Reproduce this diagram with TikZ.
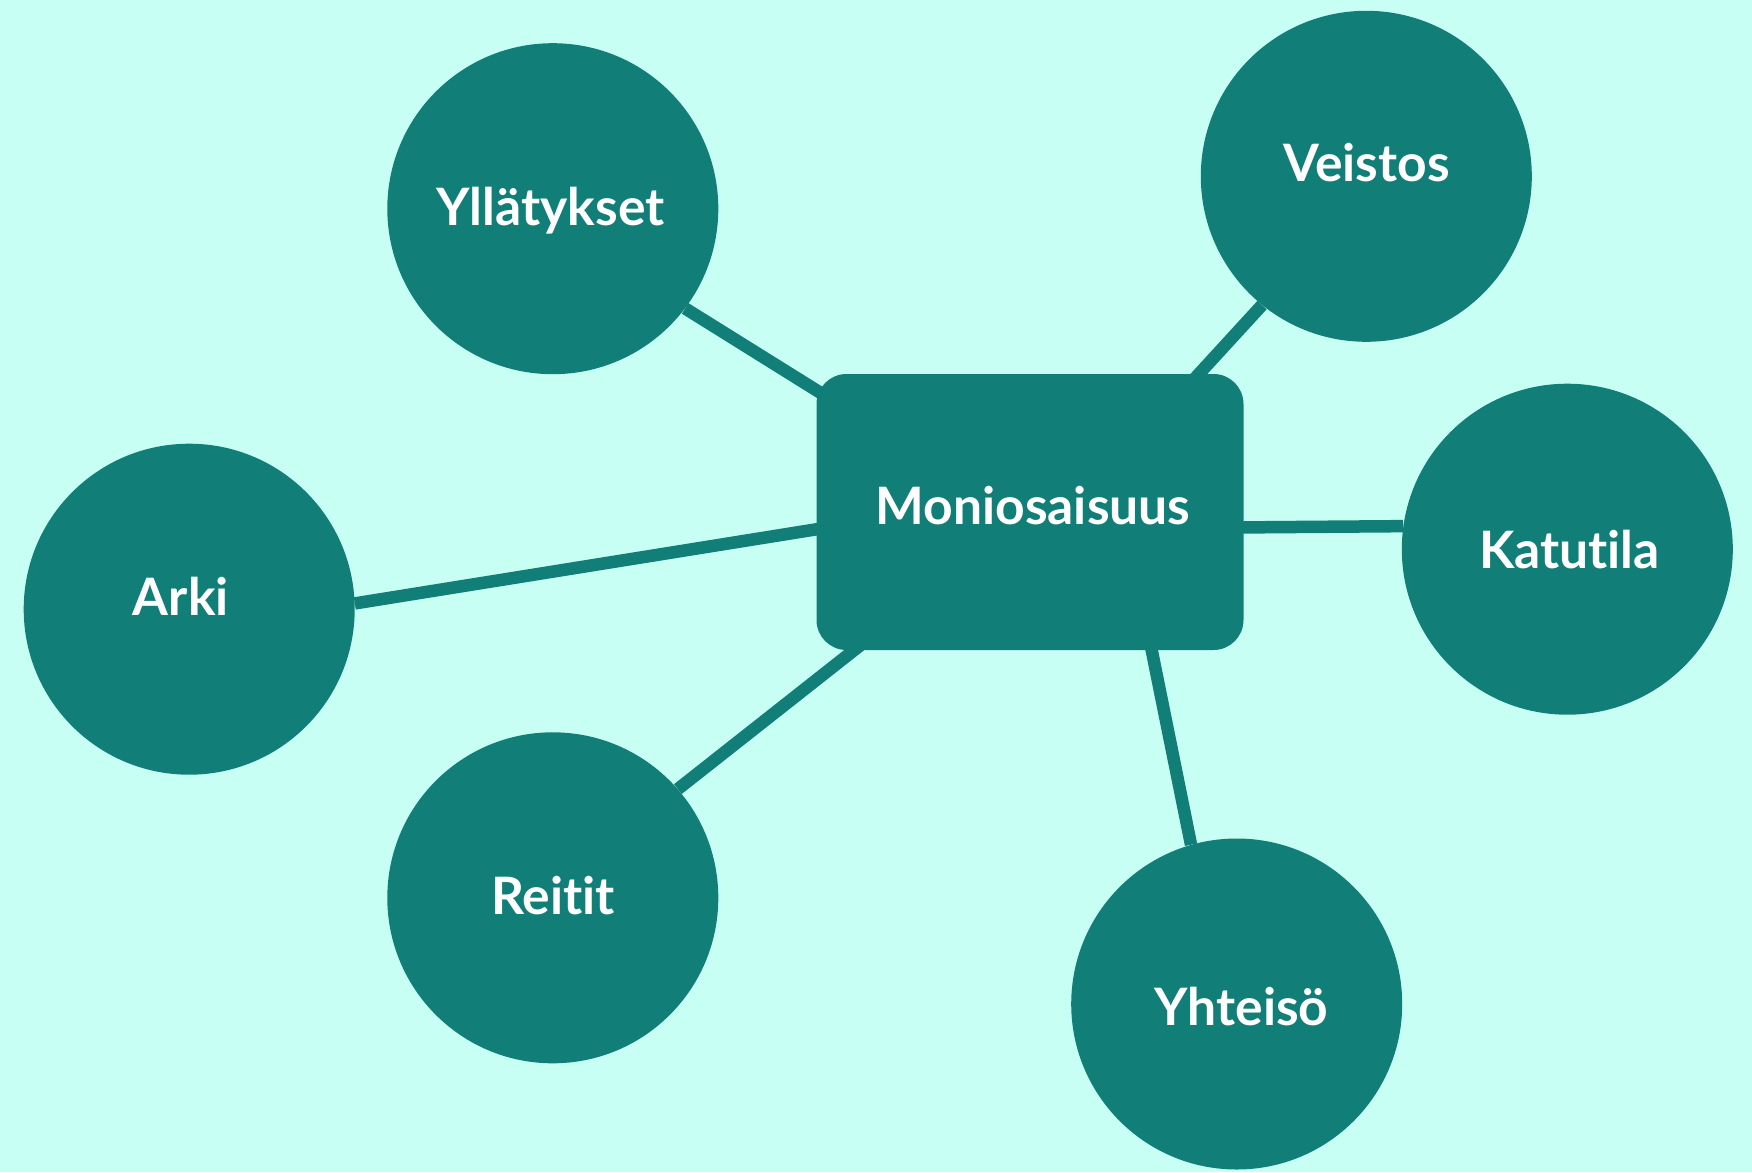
\documentclass[tikz,border=0pt]{standalone}
\usepackage{fontspec}
\setmainfont{Lato}[Ligatures={NoCommon}]
\usetikzlibrary{calc}
\definecolor{teal0}{RGB}{17,127,119}
\definecolor{mint}{RGB}{200,255,244}
\pgfdeclarelayer{bg}
\pgfsetlayers{bg,main}
\tikzset{
  bub/.style={circle,fill=teal0,minimum size=331pt,inner sep=0pt},
  hub/.style={rectangle,rounded corners=30pt,fill=teal0,minimum width=427pt,minimum height=276pt,inner sep=0pt},
  lbl/.style={anchor=base,text=white,font=\fontsize{51.6}{60}\selectfont\bfseries,inner sep=0pt},
  link/.style={draw=teal0,line width=12.5pt},
}
\begin{document}
\begin{tikzpicture}[x=1pt,y=-1pt]
\useasboundingbox (0,0) rectangle (1752,1172);
\node[hub] (hub) at (1030,512) {};
\node[bub] (yll) at (552.8,208.7) {};
\node[bub] (vei) at (1366.3,176.3) {};
\node[bub] (kat) at (1567.3,549.2) {};
\node[bub] (ark) at (189.2,609.2) {};
\node[bub] (rei) at (552.8,897.8) {};
\node[bub] (yht) at (1236.7,1004) {};
\node[lbl] (tmon) at (1033,524) {Moniosaisuus};
\node[lbl] (tyll) at (550.4,225.7) {Yllätykset};
\node[lbl] (tvei) at (1366.5,181) {Veistos};
\node[lbl] (tkat) at (1569.5,568.3) {Katutila};
\node[lbl] (tark) at (180.8,615) {Arki};
\node[lbl] (trei) at (553.2,914) {Reitit};
\node[lbl] (tyht) at (1241.5,1025.7) {Yhteisö};
\begin{pgfonlayer}{bg}
\fill[mint] (0,0) rectangle (1752,1172);
\draw[link] (yll.-37.1) -- ($(hub.center)+(-190,-107)$);
\draw[link] (vei.-129.4) -- ($(hub.center)+(145,-112)$);
\draw[link] (kat.172.5) -- ($(hub.center)+(190,15.6)$);
\draw[link] (ark.2.2) -- ($(hub.center)+(-190,13.5)$);
\draw[link] (rei.41) -- ($(hub.center)+(-144,113)$);
\draw[link] (yht.106.3) -- ($(hub.center)+(116.6,113)$);
\end{pgfonlayer}
\end{tikzpicture}
\end{document}
